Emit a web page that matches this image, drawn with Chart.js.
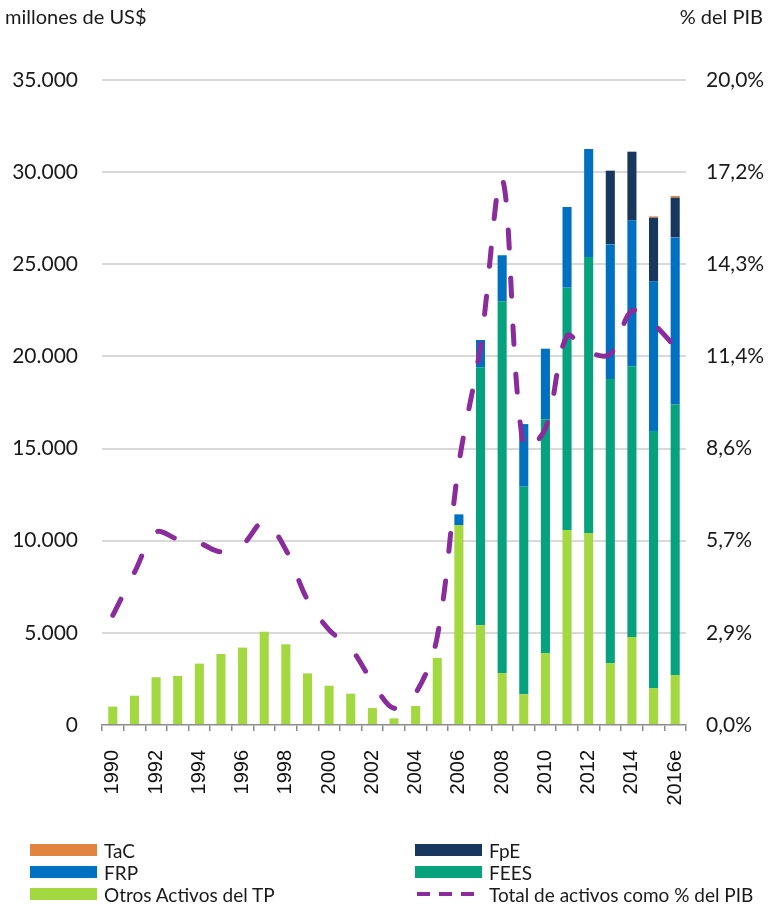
<!DOCTYPE html>
<html>
<head>
<meta charset="utf-8">
<script src="https://cdn.jsdelivr.net/npm/chart.js@4.4.1/dist/chart.umd.min.js"></script>
<style>
html, body { margin: 0; padding: 0; background: #fff; }
#wrap { position: relative; width: 769px; height: 905px; }
#box { position: absolute; left: 0; top: 0; width: 769px; height: 905px; }
#legend { position: absolute; left: 30px; top: 841px; display: grid; grid-template-columns: 385px 320px; row-gap: 4px; font-family: Lato, sans-serif; font-size: 19px; color: #1a1a1a; }
.item { display: flex; align-items: center; height: 18px; white-space: nowrap; }
.sw { width: 67px; height: 12px; margin-right: 7px; flex: none; }
.sw svg { display: block; }
</style>
</head>
<body>
<div id="wrap">
  <div id="box"><canvas id="chart"></canvas></div>
  <div id="legend"></div>
</div>
<script>
const years = ['1990','1991','1992','1993','1994','1995','1996','1997','1998','1999','2000','2001','2002','2003','2004','2005','2006','2007','2008','2009','2010','2011','2012','2013','2014','2015','2016e'];

// millones de US$
const otros = [1000, 1590, 2590, 2660, 3330, 3850, 4200, 5060, 4380, 2800, 2130, 1700, 920, 360, 1030, 3640, 10850, 5410, 2820, 1665, 3900, 10580, 10420, 3360, 4775, 2000, 2710];
const fees  = [0, 0, 0, 0, 0, 0, 0, 0, 0, 0, 0, 0, 0, 0, 0, 0, 0, 14000, 20170, 11265, 12690, 13150, 14980, 15415, 14690, 13950, 14690];
const frp   = [0, 0, 0, 0, 0, 0, 0, 0, 0, 0, 0, 0, 0, 0, 0, 0, 580, 1480, 2500, 3400, 3830, 4380, 5855, 7305, 7920, 8125, 9060];
const fpe   = [0, 0, 0, 0, 0, 0, 0, 0, 0, 0, 0, 0, 0, 0, 0, 0, 0, 0, 0, 0, 0, 0, 0, 4000, 3725, 3455, 2155];
const tac   = [0, 0, 0, 0, 0, 0, 0, 0, 0, 0, 0, 0, 0, 0, 0, 0, 0, 0, 0, 0, 0, 0, 0, 0, 0, 70, 90];

// % del PIB
const pib = [3.4, 4.73, 5.98, 5.76, 5.64, 5.37, 5.6, 6.3, 5.43, 3.88, 2.95, 2.38, 1.34, 0.52, 0.98, 2.74, 8.1, 11.75, 16.95, 8.58, 9.2, 12.06, 11.57, 11.5, 12.84, 12.43, 11.72];

const pctLabels = ['0,0%', '2,9%', '5,7%', '8,6%', '11,4%', '14,3%', '17,2%', '20,0%'];

const C = {
  tac: '#e0843f',
  fpe: '#17375e',
  frp: '#0070c0',
  fees: '#05a27d',
  otros: '#a4d840',
  line: '#8b2c9d'
};

const txt = '#1a1a1a';

function miles(v) {
  return String(v).replace(/\B(?=(\d{3})+(?!\d))/g, '.');
}

const axisTitles = {
  id: 'axisTitles',
  afterDraw(chart) {
    const ctx = chart.ctx;
    ctx.save();
    ctx.font = '20px Lato';
    ctx.fillStyle = txt;
    ctx.textBaseline = 'middle';
    ctx.textAlign = 'left';
    ctx.fillText('millones de US$', 5, 18);
    ctx.textAlign = 'right';
    ctx.fillText('% del PIB', 763, 18);
    ctx.restore();
  }
};

function bar(label, data, color) {
  return { type: 'bar', label: label, data: data, backgroundColor: color, yAxisID: 'y', order: 1,
    barPercentage: 0.42, categoryPercentage: 1 };
}

const chart = new Chart(document.getElementById('chart').getContext('2d'), {
  data: {
    labels: years,
    datasets: [
      bar('Otros Activos del TP', otros, C.otros),
      bar('FEES', fees, C.fees),
      bar('FRP', frp, C.frp),
      bar('FpE', fpe, C.fpe),
      bar('TaC', tac, C.tac),
      {
        type: 'line',
        label: 'Total de activos como % del PIB',
        data: pib,
        yAxisID: 'y1',
        order: 0,
        borderColor: C.line,
        borderWidth: 5,
        borderDash: [18, 30],
        borderCapStyle: 'round',
        tension: 0.35,
        pointRadius: 0,
        fill: false
      }
    ]
  },
  options: {
    responsive: true,
    maintainAspectRatio: false,
    animation: false,
    layout: { padding: { top: 80, left: 0, right: 0, bottom: 0 } },
    plugins: {
      legend: { display: false },
      tooltip: { enabled: false }
    },
    scales: {
      x: {
        stacked: true,
        offset: true,
        grid: { offset: true, drawOnChartArea: false, color: '#8c8c8c', lineWidth: 1.5, tickLength: 6 },
        border: { color: '#8c8c8c', width: 1.5 },
        ticks: {
          autoSkip: false,
          minRotation: 90,
          maxRotation: 90,
          padding: 19,
          color: '#111',
          font: { family: 'Liberation Sans', size: 20 },
          callback: function (v, i) { return i % 2 === 0 ? years[i] : ''; }
        },
        afterFit: function (s) { s.height = 180; }
      },
      y: {
        stacked: true,
        position: 'left',
        min: 0,
        max: 35000,
        grid: {
          drawTicks: false,
          lineWidth: 2,
          color: function (c) { return c.tick && c.tick.value === 0 ? 'rgba(0,0,0,0)' : '#d9d9d9'; }
        },
        border: { display: false },
        ticks: {
          stepSize: 5000,
          padding: 24,
          color: txt,
          font: { family: 'Lato', size: 21 },
          callback: function (v) { return miles(v); }
        },
        afterFit: function (s) { s.width = 102; }
      },
      y1: {
        position: 'right',
        min: 0,
        max: 20,
        grid: { drawOnChartArea: false, drawTicks: false },
        border: { display: false },
        afterBuildTicks: function (s) {
          s.ticks = pctLabels.map(function (_, i) { return { value: i * 20 / (pctLabels.length - 1) }; });
        },
        ticks: {
          padding: 20,
          color: txt,
          font: { family: 'Lato', size: 21 },
          callback: function (v, i) { return pctLabels[i]; }
        },
        afterFit: function (s) { s.width = 83; }
      }
    }
  },
  plugins: [axisTitles]
});

// leyenda en dos columnas
const legendOrder = ['TaC', 'FpE', 'FRP', 'FEES', 'Otros Activos del TP', 'Total de activos como % del PIB'];
const legendEl = document.getElementById('legend');
legendOrder.forEach(function (name) {
  const ds = chart.data.datasets.find(function (d) { return d.label === name; });
  const item = document.createElement('div');
  item.className = 'item';
  const sw = document.createElement('div');
  sw.className = 'sw';
  if (ds.type === 'line') {
    sw.innerHTML = '<svg width="67" height="12"><line x1="2" y1="6" x2="67" y2="6" stroke="' + ds.borderColor +
      '" stroke-width="4" stroke-dasharray="13 9"/></svg>';
  } else {
    sw.style.background = ds.backgroundColor;
  }
  const lab = document.createElement('span');
  lab.textContent = name;
  item.appendChild(sw);
  item.appendChild(lab);
  legendEl.appendChild(item);
});
</script>
</body>
</html>
